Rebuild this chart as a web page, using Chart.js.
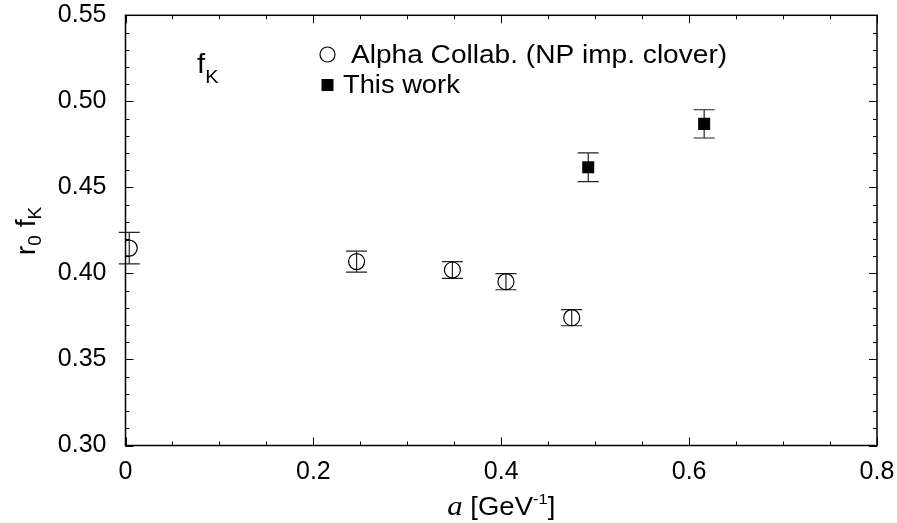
<!DOCTYPE html>
<html>
<head>
<meta charset="utf-8">
<script src="https://cdn.jsdelivr.net/npm/chart.js@4/dist/chart.umd.min.js"></script>
<style>
  html, body { margin: 0; padding: 0; background: #fff; }
  #wrap { width: 897px; height: 523px; }
</style>
</head>
<body>
<div id="wrap"><canvas id="fk"></canvas></div>
<script>
/* ===== DATA ===== */
const ALPHA_A   = [0.004, 0.246, 0.348, 0.405, 0.475];       // a [GeV^-1]
const ALPHA_F   = [0.4147, 0.4069, 0.4020, 0.3952, 0.3743];  // r0 fK
const ALPHA_ERR = [0.0092, 0.0061, 0.0049, 0.0047, 0.0047];
const THIS_A    = [0.4926, 0.616];
const THIS_F    = [0.4617, 0.4869];
const THIS_ERR  = [0.0083, 0.0082];
const X_TICKS   = [0, 0.2, 0.4, 0.6, 0.8];
const Y_TICKS   = [0.30, 0.35, 0.40, 0.45, 0.50, 0.55];
const LEGEND    = ['Alpha Collab. (NP imp. clover)', 'This work'];

/* ===== HELPERS ===== */
const FONT = '"Liberation Sans", Arial, sans-serif';
const pts = (xs, ys, es) => xs.map((x, i) => ({x, y: ys[i], e: es[i]}));
const noPad = s => { s.paddingLeft = s.paddingRight = s.paddingTop = s.paddingBottom = 0; };

// draw a run of [font, text, dy] pieces, optionally stretched horizontally
function drawRun(ctx, parts, x, y, sx, align) {
  let w = 0;
  parts.forEach(p => { ctx.font = p[0]; w += ctx.measureText(p[1]).width; });
  ctx.save();
  ctx.translate(x, y);
  ctx.scale(sx, 1);
  let cx = align === 'center' ? -w / 2 : 0;
  parts.forEach(p => { ctx.font = p[0]; ctx.fillText(p[1], cx, p[2]); cx += ctx.measureText(p[1]).width; });
  ctx.restore();
}

// inward ticks on all four sides + frame
const frame = {
  id: 'frame',
  afterDraw(chart) {
    const {ctx, chartArea: a, scales: {x, y}} = chart;
    ctx.save();
    ctx.strokeStyle = '#000';
    ctx.lineWidth = 1.5;
    ctx.strokeRect(a.left, a.top, a.right - a.left, a.bottom - a.top);
    ctx.lineWidth = 1;
    ctx.beginPath();
    for (let i = 0; i <= 16; i++) {
      const px = Math.round(x.getPixelForValue(i * 0.05)) + 0.5;
      const len = i % 4 === 0 ? 8 : 4;
      ctx.moveTo(px, a.bottom); ctx.lineTo(px, a.bottom - len);
      ctx.moveTo(px, a.top);    ctx.lineTo(px, a.top + len);
    }
    for (let i = 0; i <= 25; i++) {
      const py = Math.round(y.getPixelForValue(0.30 + i * 0.01)) + 0.5;
      const len = i % 5 === 0 ? 8 : 4;
      ctx.moveTo(a.left, py);  ctx.lineTo(a.left + len, py);
      ctx.moveTo(a.right, py); ctx.lineTo(a.right - len, py);
    }
    ctx.stroke();
    ctx.restore();
  }
};

// vertical error bars with caps
const errorBars = {
  id: 'errorBars',
  beforeDatasetsDraw(chart) {
    const {ctx, scales: {x, y}} = chart;
    ctx.save();
    ctx.strokeStyle = '#222';
    ctx.lineWidth = 1.2;
    chart.data.datasets.forEach(ds => {
      ds.data.forEach(p => {
        const px = x.getPixelForValue(p.x);
        const top = y.getPixelForValue(p.y + p.e), bot = y.getPixelForValue(p.y - p.e);
        ctx.beginPath();
        ctx.moveTo(px, top); ctx.lineTo(px, bot);
        ctx.moveTo(px - 10.5, top); ctx.lineTo(px + 10.5, top);
        ctx.moveTo(px - 10.5, bot); ctx.lineTo(px + 10.5, bot);
        ctx.stroke();
      });
    });
    ctx.restore();
  }
};

// legend, panel label and axis titles
const labels = {
  id: 'labels',
  afterDraw(chart) {
    const {ctx} = chart;
    ctx.save();
    ctx.fillStyle = '#000';
    ctx.strokeStyle = '#000';
    ctx.textBaseline = 'alphabetic';
    ctx.textAlign = 'left';

    // legend
    ctx.lineWidth = 1.2;
    ctx.beginPath(); ctx.arc(327.5, 54.5, 7.5, 0, Math.PI * 2); ctx.stroke();
    ctx.fillRect(321.5, 79, 12, 12);
    drawRun(ctx, [['26px ' + FONT, LEGEND[0], 0]], 351, 63, 1.08);
    drawRun(ctx, [['26px ' + FONT, LEGEND[1], 0]], 343, 93, 1.05);

    // f_K
    drawRun(ctx, [['28px ' + FONT, 'f', 0], ['19px ' + FONT, 'K', 10]], 197, 73, 1.05);

    // x title: a [GeV^-1]
    const xc = (chart.chartArea.left + chart.chartArea.right) / 2;
    drawRun(ctx, [
      ['italic 28px "Liberation Serif", "Times New Roman", serif', 'a ', 0],
      ['25px ' + FONT, '[GeV', 0],
      ['15px ' + FONT, '-1', -11],
      ['25px ' + FONT, ']', 0]
    ], xc, 515, 1.1, 'center');

    // y title: r0 fK, rotated
    ctx.translate(35, 231);
    ctx.rotate(-Math.PI / 2);
    drawRun(ctx, [
      ['27px ' + FONT, 'r', 0],
      ['18px ' + FONT, '0', 6],
      ['27px ' + FONT, ' f', 0],
      ['18px ' + FONT, 'K', 6]
    ], 0, 0, 1.05, 'center');
    ctx.restore();
  }
};

/* ===== CHART ===== */
new Chart(document.getElementById('fk'), {
  type: 'scatter',
  data: {
    datasets: [
      {label: LEGEND[0], data: pts(ALPHA_A, ALPHA_F, ALPHA_ERR),
       pointStyle: 'circle', radius: 8, borderColor: '#000', borderWidth: 1.2,
       backgroundColor: 'rgba(0,0,0,0)'},
      {label: LEGEND[1], data: pts(THIS_A, THIS_F, THIS_ERR),
       pointStyle: 'rect', radius: 8.5, borderColor: '#000', borderWidth: 0,
       backgroundColor: '#000'}
    ]
  },
  options: {
    responsive: true,
    maintainAspectRatio: false,
    animation: false,
    events: [],
    layout: {padding: {top: 15.3, right: 20, left: 0, bottom: 0}},
    plugins: {legend: {display: false}, tooltip: {enabled: false}},
    scales: {
      x: {
        type: 'linear', min: 0, max: 0.8,
        grid: {display: false}, border: {display: false},
        afterBuildTicks: s => { s.ticks = X_TICKS.map(v => ({value: v})); },
        afterFit: s => { s.height = 77.5; noPad(s); },
        ticks: {padding: 4, color: '#000', font: {family: FONT, size: 25},
                maxRotation: 0, callback: v => v === 0 ? '0' : v.toFixed(1)}
      },
      y: {
        type: 'linear', min: 0.30, max: 0.55,
        grid: {display: false}, border: {display: false},
        afterBuildTicks: s => { s.ticks = Y_TICKS.map(v => ({value: v})); },
        afterFit: s => { s.width = 125.5; noPad(s); },
        ticks: {padding: 11, color: '#000', font: {family: FONT, size: 25},
                callback: v => v.toFixed(2)}
      }
    }
  },
  plugins: [errorBars, frame, labels]
});
</script>
</body>
</html>
